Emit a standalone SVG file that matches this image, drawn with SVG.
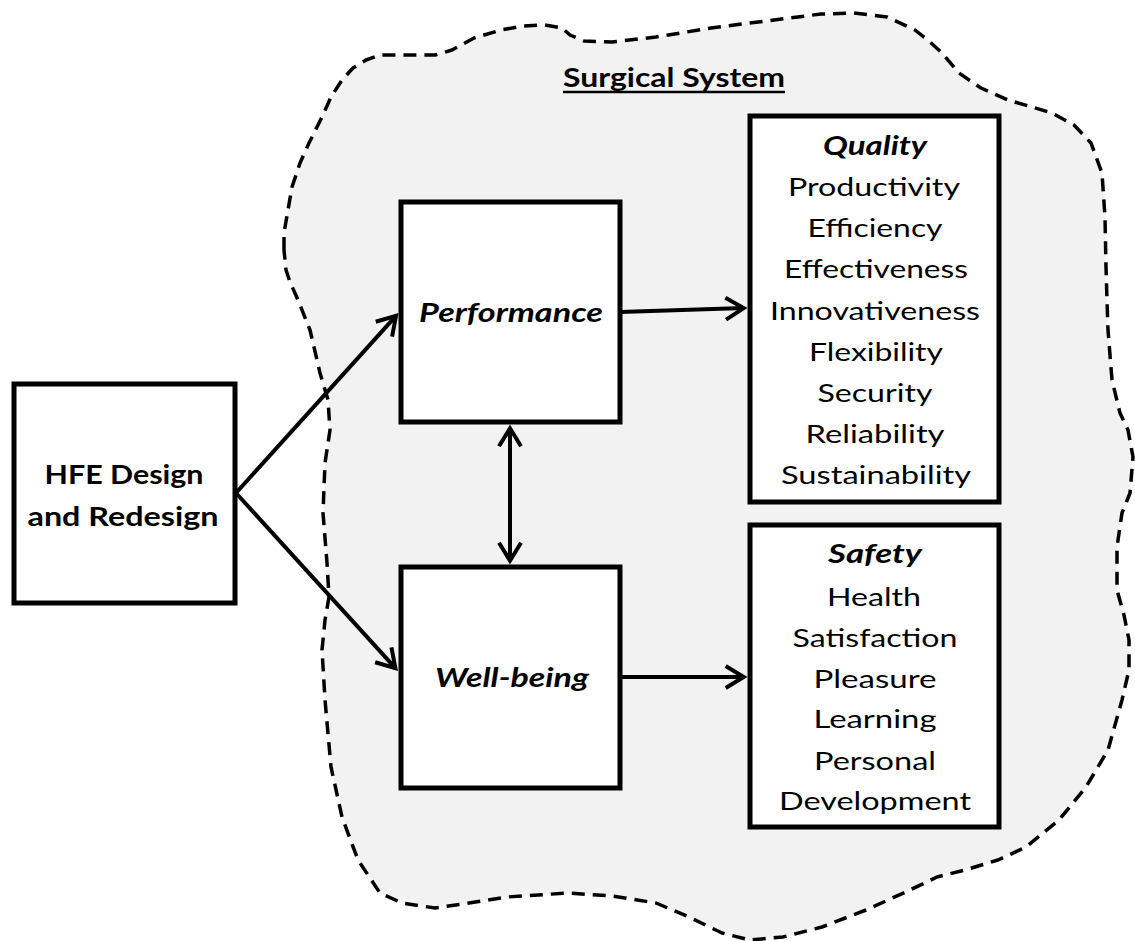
<svg xmlns="http://www.w3.org/2000/svg" width="1135" height="941" viewBox="0 0 1135 941">
  <style>
    .bg { fill: #ffffff; }
    .blob { fill: #f2f2f2; stroke: #000; stroke-width: 3.5; stroke-dasharray: 13 8; stroke-linejoin: round; }
    .box { fill: #ffffff; stroke: #000; stroke-width: 5; }
    .conn { fill: none; stroke: #000; stroke-width: 4; }
    .uline { stroke: #000; stroke-width: 2.6; }
    text { font-family: Lato, "Liberation Sans", sans-serif; fill: #000; text-anchor: middle; }
    .r { font-size: 25.5px; }
    .b { font-size: 26.5px; font-weight: bold; }
    .bi { font-size: 26.5px; font-weight: bold; font-style: italic; }
  </style>
  <defs>
    <marker id="arr" viewBox="-25 -15 30 30" refX="0" refY="0" markerWidth="30" markerHeight="30" markerUnits="userSpaceOnUse" orient="auto-start-reverse" overflow="visible">
      <path d="M-18,-11 L0,0 L-18,11" fill="none" stroke="#000" stroke-width="4" stroke-linejoin="miter"/>
    </marker>
  </defs>
  <rect class="bg" x="0" y="0" width="1135" height="941"/>

  <g id="surgical-system">
    <path class="blob" d="M284,250 L284,233 L288,210 L292,187 L300,163 L309,143 L322,117 L331,97 L342,80 L353,68 L366,60 L380,55 L402,55 L435,55 L452,50 L474,38 L501,30 L523,26 L545,25 L562,28 L570,35 L584,41 L612,42 L656,37 L711,28 L766,21 L821,14 L854,13 L887,17 L915,30 L930,42 L942,53 L959,73 L981,88 L1008,100 L1032,107 L1052,113 L1074,125 L1091,143 L1102,173 L1105,217 L1106,267 L1107,300 L1108,330 L1112,380 L1120,413 L1128,430 L1133,457 L1130,493 L1122,513 L1117,547 L1117,590 L1124,615 L1129,640 L1129,670 L1122,700 L1108,750 L1086,787 L1059,820 L1026,847 L998,860 L965,870 L937,877 L910,890 L866,910 L822,927 L783,937 L750,940 L722,933 L689,917 L656,903 L612,896 L568,893 L507,897 L469,903 L435,908 L402,903 L380,893 L358,860 L342,817 L331,767 L325,700 L322,650 L325,620 L329,597 L327,563 L323,513 L325,463 L330,430 L328,400 L320,373 L310,330 L298,300 L290,282 L286,270 Z"/>
    <text class="b" x="674" y="87" textLength="222" lengthAdjust="spacingAndGlyphs">Surgical System</text>
    <line class="uline" x1="563" y1="92" x2="785" y2="92"/>
  </g>

  <g id="connectors">
    <line class="conn" x1="236" y1="493" x2="396" y2="315.8" marker-end="url(#arr)"/>
    <line class="conn" x1="236" y1="493" x2="395.4" y2="668.2" marker-end="url(#arr)"/>
    <line class="conn" x1="620" y1="312" x2="743.7" y2="308.1" marker-end="url(#arr)"/>
    <line class="conn" x1="620" y1="677" x2="743.7" y2="677" marker-end="url(#arr)"/>
    <line class="conn" x1="510" y1="428.3" x2="510" y2="560.7" marker-start="url(#arr)" marker-end="url(#arr)"/>
  </g>

  <g id="hfe">
    <rect class="box" x="14" y="384" width="221" height="219"/>
    <text class="b" x="124" y="484" textLength="159" lengthAdjust="spacingAndGlyphs">HFE Design</text>
    <text class="b" x="123" y="526" textLength="191" lengthAdjust="spacingAndGlyphs">and Redesign</text>
  </g>

  <g id="performance">
    <rect class="box" x="401" y="202" width="219" height="220"/>
    <text class="bi" x="511" y="322" textLength="184" lengthAdjust="spacingAndGlyphs">Performance</text>
  </g>

  <g id="well-being">
    <rect class="box" x="401" y="567" width="219" height="221"/>
    <text class="bi" x="512" y="687" textLength="154" lengthAdjust="spacingAndGlyphs">Well-being</text>
  </g>

  <g id="quality">
    <rect class="box" x="750" y="116" width="249" height="386"/>
    <text class="bi" x="875" y="155" textLength="104" lengthAdjust="spacingAndGlyphs">Quality</text>
    <text class="r" x="874" y="196" textLength="172" lengthAdjust="spacingAndGlyphs">Productivity</text>
    <text class="r" x="875" y="237" textLength="135" lengthAdjust="spacingAndGlyphs">Efficiency</text>
    <text class="r" x="876" y="278" textLength="184" lengthAdjust="spacingAndGlyphs">Effectiveness</text>
    <text class="r" x="875" y="319.5" textLength="210" lengthAdjust="spacingAndGlyphs">Innovativeness</text>
    <text class="r" x="876" y="360.5" textLength="134" lengthAdjust="spacingAndGlyphs">Flexibility</text>
    <text class="r" x="875" y="401.5" textLength="115" lengthAdjust="spacingAndGlyphs">Security</text>
    <text class="r" x="875" y="442.5" textLength="139" lengthAdjust="spacingAndGlyphs">Reliability</text>
    <text class="r" x="876" y="483.5" textLength="190" lengthAdjust="spacingAndGlyphs">Sustainability</text>
  </g>

  <g id="safety">
    <rect class="box" x="750" y="525" width="249" height="302"/>
    <text class="bi" x="875" y="563" textLength="94" lengthAdjust="spacingAndGlyphs">Safety</text>
    <text class="r" x="874" y="606" textLength="94" lengthAdjust="spacingAndGlyphs">Health</text>
    <text class="r" x="875" y="647" textLength="165" lengthAdjust="spacingAndGlyphs">Satisfaction</text>
    <text class="r" x="875" y="688" textLength="123" lengthAdjust="spacingAndGlyphs">Pleasure</text>
    <text class="r" x="875" y="728" textLength="123" lengthAdjust="spacingAndGlyphs">Learning</text>
    <text class="r" x="875" y="770" textLength="122" lengthAdjust="spacingAndGlyphs">Personal</text>
    <text class="r" x="875" y="810" textLength="192" lengthAdjust="spacingAndGlyphs">Development</text>
  </g>
</svg>
